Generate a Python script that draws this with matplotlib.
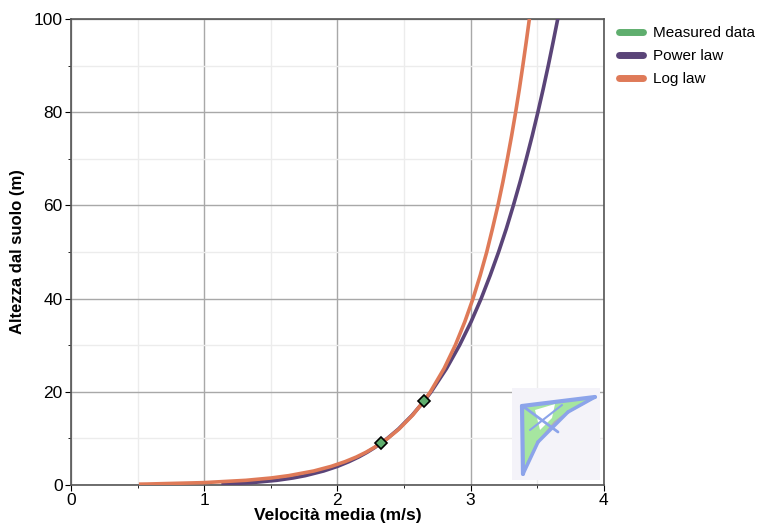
import matplotlib
matplotlib.use('Agg')
import matplotlib.pyplot as plt
from matplotlib.patches import Rectangle, Polygon
from matplotlib.ticker import MultipleLocator

plt.rcParams['font.family'] = ['Liberation Sans', 'DejaVu Sans']

# measured points
meas_u = [2.33, 2.65]
meas_z = [9, 18]

# power law curve
power_z = [0.2, 0.5, 1, 1.5, 2, 3, 4, 5, 6, 7, 8, 10, 12, 15, 18, 20, 25, 30, 35, 40,
           45, 50, 55, 60, 65, 70, 75, 80, 85, 90, 95, 100]
power_u = [1.143, 1.357, 1.545, 1.667, 1.759, 1.897, 2.002, 2.087, 2.160, 2.223, 2.279,
           2.376, 2.459, 2.563, 2.652, 2.705, 2.820, 2.918, 3.004, 3.080, 3.148, 3.211,
           3.269, 3.322, 3.372, 3.419, 3.464, 3.506, 3.546, 3.584, 3.620, 3.655]

# log law curve
log_z = [0.18, 0.2, 0.5, 1, 1.5, 2, 3, 4, 5, 6, 7, 8, 10, 12, 15, 18, 20, 25, 30, 35,
         40, 45, 50, 55, 60, 65, 70, 75, 80, 85, 90, 95, 100]
log_u = [0.524, 0.572, 0.995, 1.315, 1.503, 1.635, 1.823, 1.955, 2.058, 2.143, 2.214,
         2.275, 2.379, 2.463, 2.566, 2.650, 2.699, 2.802, 2.886, 2.957, 3.019, 3.073,
         3.122, 3.165, 3.206, 3.243, 3.277, 3.309, 3.339, 3.367, 3.393, 3.418, 3.442]

green = '#5fae6e'
purple = '#5a4478'
orange = '#df7a58'

fig = plt.figure(figsize=(7.71, 5.26), dpi=100)
ax = fig.add_axes([0.092, 0.078, 0.691, 0.886])

ax.plot(power_u, power_z, color=purple, lw=2.6, label='Power law', zorder=3)
ax.plot(log_u, log_z, color=orange, lw=2.6, label='Log law', zorder=4)
ax.plot(meas_u, meas_z, linestyle='none', marker='D', markersize=6.5,
        markerfacecolor=green, markeredgecolor='black', markeredgewidth=1.2, zorder=5)

ax.set_xlim(0, 4)
ax.set_ylim(0, 100)
ax.xaxis.set_major_locator(MultipleLocator(1))
ax.xaxis.set_minor_locator(MultipleLocator(0.5))
ax.yaxis.set_major_locator(MultipleLocator(20))
ax.yaxis.set_minor_locator(MultipleLocator(10))
ax.grid(which='major', color='#a8a8a8', lw=1.0)
ax.grid(which='minor', color='#ececec', lw=1.0)
ax.set_axisbelow(True)
for s in ax.spines.values():
    s.set_color('#555555')
    s.set_linewidth(1.2)
ax.tick_params(which='major', direction='out', length=4, labelsize=12.5, color='black', pad=2)
ax.tick_params(which='minor', direction='out', length=2, color='black')

ax.set_xlabel('Velocità media (m/s)', fontsize=12.5, fontweight='bold', labelpad=0)
ax.set_ylabel('Altezza dal suolo (m)', fontsize=12, fontweight='bold', labelpad=6)

# legend
handles = [plt.Line2D([], [], color=green, lw=5, solid_capstyle='round'),
           plt.Line2D([], [], color=purple, lw=5, solid_capstyle='round'),
           plt.Line2D([], [], color=orange, lw=5, solid_capstyle='round')]
fig.legend(handles, ['Measured data', 'Power law', 'Log law'], loc='upper left',
           bbox_to_anchor=(0.785, 0.977), frameon=False, fontsize=11,
           handlelength=1.6, handletextpad=0.65, labelspacing=0.6)

# small glider logo in the corner
def lp(px, py):
    return (px / 771, 1 - py / 526)

fig.patches.append(Rectangle(lp(512, 480), 88 / 771, 92 / 526, transform=fig.transFigure,
                             facecolor='#f4f3f9', edgecolor='none', zorder=6))
body = [lp(522, 406), lp(595, 397), lp(568, 412), lp(555, 422), lp(538, 442),
        lp(528, 462), lp(523, 474)]
fig.patches.append(Polygon(body, closed=True, transform=fig.transFigure,
                           facecolor='#a6e6a0', edgecolor='#b0b0b8', lw=1.5, zorder=7))
white = [lp(535, 410), lp(555, 404), lp(552, 418), lp(540, 430)]
fig.patches.append(Polygon(white, closed=True, transform=fig.transFigure,
                           facecolor='white', edgecolor='none', zorder=8))
blue = '#8ca4ea'
for (xa, ya), (xb, yb), w in [((522, 406), (595, 397), 3), ((522, 406), (523, 474), 3),
                              ((595, 397), (568, 412), 2.5), ((568, 412), (538, 442), 2.5),
                              ((538, 442), (523, 474), 2.5), ((524, 407), (558, 432), 2),
                              ((530, 430), (562, 405), 1.5)]:
    pa, pb = lp(xa, ya), lp(xb, yb)
    fig.lines.append(plt.Line2D([pa[0], pb[0]], [pa[1], pb[1]], transform=fig.transFigure,
                                color=blue, lw=w, solid_capstyle='round', zorder=9))

fig.savefig('out.png', dpi=100)
